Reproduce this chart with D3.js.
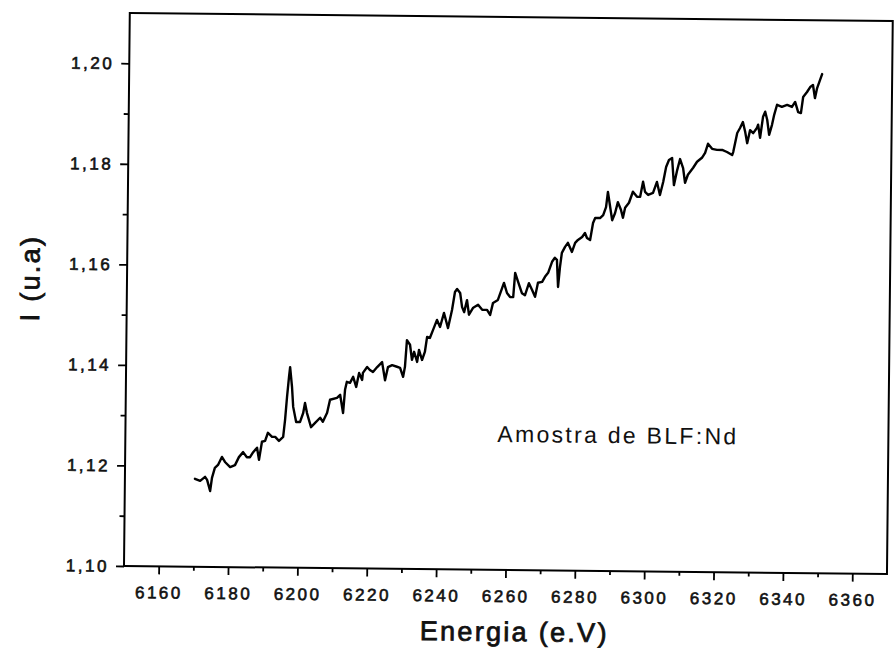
<!DOCTYPE html>
<html>
<head>
<meta charset="utf-8">
<script src="https://cdn.jsdelivr.net/npm/d3@7"></script>
<style>
  html, body { margin: 0; padding: 0; background: #fff; }
  svg { display: block; }
  .tick text { font-family: "Liberation Sans", Arial, sans-serif; fill: #111; }
</style>
</head>
<body>
<script>
// XANES-region spectrum of the BLF:Nd sample: intensity vs. energy
const energy = [
  6170.2, 6171.7, 6173.1, 6173.7, 6174.6, 6175.1, 6175.9, 6176.8, 6177.9, 6178.8,
  6180.3, 6181.7, 6182.8, 6184.0, 6185.1, 6186.0, 6186.9, 6188.0, 6188.6, 6189.4,
  6190.3, 6191.1, 6192.3, 6193.2, 6194.3, 6195.5, 6196.0, 6196.5, 6197.0, 6197.3,
  6197.9, 6198.3, 6199.2, 6200.3, 6201.2, 6201.7, 6202.3, 6203.5, 6204.6, 6206.1,
  6206.9, 6208.1, 6208.9, 6210.9, 6211.8, 6212.7, 6213.2, 6213.7, 6214.6, 6215.5,
  6216.4, 6217.2, 6218.1, 6218.3, 6219.5, 6220.3, 6221.2, 6222.4, 6223.8, 6224.7,
  6225.5, 6226.7, 6228.1, 6229.0, 6229.9, 6230.4, 6230.9, 6231.8, 6232.4, 6233.0,
  6233.9, 6234.4, 6235.3, 6236.1, 6236.7, 6237.5, 6238.4, 6239.5, 6240.4, 6241.5,
  6242.7, 6243.8, 6244.6, 6245.2, 6246.1, 6246.7, 6247.3, 6248.1, 6248.7, 6249.9,
  6251.3, 6252.5, 6253.9, 6254.8, 6255.6, 6257.0, 6258.2, 6258.7, 6259.6, 6260.5,
  6261.4, 6261.9, 6262.8, 6263.9, 6264.8, 6265.9, 6266.8, 6267.7, 6268.5, 6269.7,
  6270.5, 6271.4, 6272.5, 6273.3, 6273.9, 6274.3, 6274.8, 6275.3, 6276.2, 6277.0,
  6278.2, 6279.1, 6279.9, 6281.1, 6281.9, 6282.5, 6283.4, 6284.2, 6284.8, 6286.2,
  6287.1, 6287.9, 6288.4, 6289.7, 6290.5, 6291.3, 6292.2, 6292.8, 6293.4, 6294.5,
  6295.6, 6296.8, 6297.7, 6298.5, 6299.1, 6300.0, 6301.4, 6302.5, 6303.4, 6304.3,
  6305.1, 6305.9, 6306.8, 6307.4, 6308.3, 6309.1, 6310.0, 6310.6, 6311.4, 6312.9,
  6314.0, 6315.4, 6316.3, 6317.1, 6318.3, 6319.7, 6321.2, 6322.6, 6324.1, 6324.4,
  6325.5, 6326.3, 6327.1, 6327.8, 6328.4, 6329.2, 6330.1, 6331.2, 6331.5, 6332.1,
  6332.9, 6333.5, 6334.1, 6334.7, 6335.5, 6336.1, 6336.9, 6338.3, 6339.8, 6341.2,
  6342.1, 6343.0, 6343.8, 6344.4, 6345.5, 6346.4, 6347.2, 6347.8, 6348.4, 6349.2, 6349.8
];

const intensity = [
  1.1175, 1.1171, 1.1179, 1.1173, 1.1151, 1.1177, 1.1197, 1.1203, 1.1219, 1.1209,
  1.1199, 1.1203, 1.1219, 1.1229, 1.1219, 1.1219, 1.1229, 1.1238, 1.1214, 1.1250,
  1.1252, 1.1268, 1.1260, 1.1260, 1.1252, 1.1260, 1.1294, 1.1340, 1.1379, 1.1399,
  1.1360, 1.1320, 1.1290, 1.1290, 1.1308, 1.1328, 1.1308, 1.1280, 1.1288, 1.1299,
  1.1291, 1.1309, 1.1335, 1.1339, 1.1345, 1.1309, 1.1355, 1.1371, 1.1369, 1.1381,
  1.1361, 1.1389, 1.1375, 1.1389, 1.1401, 1.1395, 1.1391, 1.1401, 1.1411, 1.1375,
  1.1401, 1.1405, 1.1402, 1.1400, 1.1382, 1.1402, 1.1455, 1.1446, 1.1416, 1.1432,
  1.1412, 1.1436, 1.1416, 1.1432, 1.1462, 1.1460, 1.1476, 1.1496, 1.1482, 1.1510,
  1.1480, 1.1516, 1.1552, 1.1558, 1.1550, 1.1522, 1.1512, 1.1536, 1.1507, 1.1521,
  1.1527, 1.1517, 1.1517, 1.1507, 1.1531, 1.1537, 1.1561, 1.1571, 1.1551, 1.1543,
  1.1543, 1.1591, 1.1573, 1.1551, 1.1547, 1.1571, 1.1558, 1.1544, 1.1572, 1.1574,
  1.1584, 1.1592, 1.1614, 1.1622, 1.1618, 1.1564, 1.1604, 1.1632, 1.1644, 1.1652,
  1.1634, 1.1652, 1.1658, 1.1664, 1.1672, 1.1662, 1.1658, 1.1692, 1.1702, 1.1702,
  1.1708, 1.1724, 1.1754, 1.1698, 1.1712, 1.1734, 1.1719, 1.1703, 1.1723, 1.1733,
  1.1755, 1.1745, 1.1745, 1.1775, 1.1755, 1.1749, 1.1753, 1.1775, 1.1749, 1.1775,
  1.1805, 1.1819, 1.1823, 1.1769, 1.1799, 1.1821, 1.1803, 1.1774, 1.1790, 1.1804,
  1.1816, 1.1824, 1.1834, 1.1852, 1.1842, 1.1840, 1.1840, 1.1836, 1.1830, 1.1836,
  1.1874, 1.1884, 1.1896, 1.1876, 1.1854, 1.1880, 1.1874, 1.1885, 1.1891, 1.1865,
  1.1907, 1.1917, 1.1901, 1.1871, 1.1891, 1.1911, 1.1931, 1.1927, 1.1931, 1.1927,
  1.1937, 1.1917, 1.1915, 1.1947, 1.1957, 1.1967, 1.1971, 1.1945, 1.1965, 1.1981, 1.1993
];

const xDomain = [6150, 6370];
const yDomain = [1.10, 1.21];
const xTicks = [6160, 6180, 6200, 6220, 6240, 6260, 6280, 6300, 6320, 6340, 6360];
const xMinorTicks = [6170, 6190, 6210, 6230, 6250, 6270, 6290, 6310, 6330, 6350];
const yTicks = [1.10, 1.12, 1.14, 1.16, 1.18, 1.20];
const yMinorTicks = [1.11, 1.13, 1.15, 1.17, 1.19];

const xTitle = "Energia (e.V)";
const yTitle = "I (u.a)";
const sampleLabel = "Amostra de BLF:Nd";

// plot frame geometry
const W = 763, H = 553;
const originX = 124, originY = 566;
const tilt = 0.6; // the whole plate sits slightly skewed

const svg = d3.select("body").append("svg")
  .attr("width", 894).attr("height", 661);

svg.append("rect").attr("width", 894).attr("height", 661).attr("fill", "#fff");

const g = svg.append("g")
  .attr("transform", `rotate(${tilt},${originX},${originY}) translate(${originX},${originY - H})`);

const x = d3.scaleLinear().domain(xDomain).range([0, W]);
const y = d3.scaleLinear().domain(yDomain).range([H, 0]);

const commaFmt = d => d3.format(".2f")(d).replace(".", ",");

function styleAxis(sel) {
  sel.select(".domain").remove();
  sel.selectAll(".tick line").attr("stroke", "#000").attr("stroke-width", 1.8);
  sel.selectAll(".tick text")
    .style("font-size", "17px")
    .style("letter-spacing", "2.5px")
    .attr("stroke", "#111").attr("stroke-width", 0.6);
}

// x axis: major + minor ticks
g.append("g").attr("transform", `translate(0,${H})`)
  .call(d3.axisBottom(x).tickValues(xTicks).tickSize(8).tickPadding(12).tickFormat(d3.format("d")))
  .call(styleAxis);
g.append("g").attr("transform", `translate(0,${H})`)
  .call(d3.axisBottom(x).tickValues(xMinorTicks).tickSize(4).tickFormat(""))
  .call(styleAxis);

// y axis: major + minor ticks
g.append("g")
  .call(d3.axisLeft(y).tickValues(yTicks).tickSize(8).tickPadding(7).tickFormat(commaFmt))
  .call(styleAxis);
g.append("g")
  .call(d3.axisLeft(y).tickValues(yMinorTicks).tickSize(5).tickFormat(""))
  .call(styleAxis);

// frame
g.append("rect")
  .attr("x", 0).attr("y", 0).attr("width", W).attr("height", H)
  .attr("fill", "none").attr("stroke", "#000").attr("stroke-width", 2);

// spectrum
const pts = energy.map((e, i) => [e, intensity[i]]);
g.append("path")
  .datum(pts)
  .attr("fill", "none")
  .attr("stroke", "#000")
  .attr("stroke-width", 2.4)
  .attr("stroke-linejoin", "round")
  .attr("stroke-linecap", "round")
  .attr("d", d3.line().x(d => x(d[0])).y(d => y(d[1])));

const font = '"Liberation Sans", Arial, sans-serif';

// axis titles
g.append("text")
  .attr("x", 391).attr("y", H + 71)
  .attr("text-anchor", "middle")
  .style("font-family", font).style("font-size", "27px").style("letter-spacing", "2.3px")
  .attr("fill", "#111").attr("stroke", "#111").attr("stroke-width", 0.8)
  .text(xTitle);

g.append("text")
  .attr("transform", `translate(-97,266) rotate(-90)`)
  .attr("text-anchor", "middle").attr("dy", "0.35em")
  .style("font-family", font).style("font-size", "27px").style("letter-spacing", "2.3px")
  .attr("fill", "#111").attr("stroke", "#111").attr("stroke-width", 0.8)
  .text(yTitle);

// sample annotation
g.append("text")
  .attr("x", 372).attr("y", 425)
  .style("font-family", font).style("font-size", "23px").style("letter-spacing", "2.3px")
  .attr("fill", "#111")
  .text(sampleLabel);
</script>
</body>
</html>
